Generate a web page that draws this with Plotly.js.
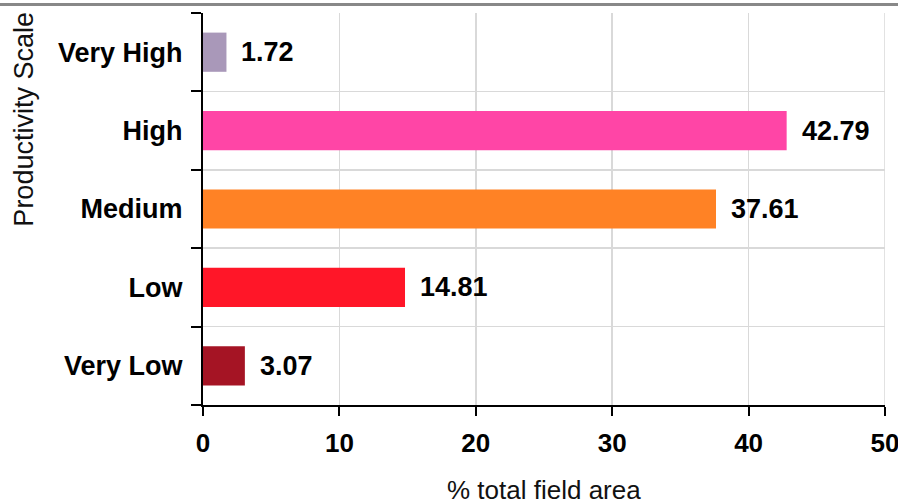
<!DOCTYPE html>
<html>
<head>
<meta charset="utf-8">
<script src="https://cdn.plot.ly/plotly-3.0.1.min.js"></script>
<style>html,body{margin:0;padding:0;background:#fff;}#chart{width:898px;height:501px;}</style>
</head>
<body>
<div id="chart"></div>
<script>
var categories = ["Very Low", "Low", "Medium", "High", "Very High"];
var values = [3.07, 14.81, 37.61, 42.79, 1.72];
var barColors = ["#A51424", "#FF1628", "#FF8225", "#FF45A6", "#A998B9"];
var xTickVals = [0, 10, 20, 30, 40, 50];
var xTitle = "% total field area";
var yTitle = "Productivity Scale";

var FONT = "Liberation Sans, Arial, sans-serif";

var trace = {
  type: "bar",
  orientation: "h",
  x: values,
  y: categories,
  width: 0.5,
  marker: {color: barColors, line: {width: 0}},
  hoverinfo: "none"
};

var annotations = values.map(function (v, i) {
  return {
    x: v, y: categories[i], xref: "x", yref: "y",
    text: v.toFixed(2), showarrow: false,
    xanchor: "left", yanchor: "middle", xshift: 13,
    font: {family: FONT, size: 27, color: "#000", weight: "bold"}
  };
});
annotations.push({
  x: 0.5, y: -0.2168, xref: "paper", yref: "paper",
  text: xTitle, showarrow: false, xanchor: "center", yanchor: "middle",
  font: {family: FONT, size: 26, color: "#111"}
});
annotations.push({
  x: -0.263, y: 0.7296, xref: "paper", yref: "paper",
  text: yTitle, showarrow: false, textangle: -90, xanchor: "center", yanchor: "middle",
  font: {family: FONT, size: 27, color: "#111"}
});

var layout = {
  width: 898, height: 501,
  margin: {l: 203, r: 13, t: 13, b: 96, pad: 0},
  paper_bgcolor: "#fff", plot_bgcolor: "#fff",
  showlegend: false,
  font: {family: FONT, color: "#000"},
  xaxis: {
    range: [0, 50], tickvals: xTickVals, ticktext: xTickVals.map(String),
    showgrid: true, gridcolor: "#d9d9d9", gridwidth: 1.5,
    zeroline: false, showline: true, linecolor: "#000", linewidth: 2,
    ticks: "outside", ticklen: 9, tickwidth: 2, tickcolor: "#000",
    ticklabelstandoff: 5, ticklabeloverflow: "allow",
    tickfont: {family: FONT, size: 26, color: "#000", weight: "bold"},
    fixedrange: true
  },
  yaxis: {
    type: "category", categoryorder: "array", categoryarray: categories,
    range: [-0.5, 4.5], tickson: "boundaries",
    showgrid: true, gridcolor: "#d9d9d9", gridwidth: 1.5,
    zeroline: false, showline: true, linecolor: "#000", linewidth: 2,
    ticks: "outside", ticklen: 10, tickwidth: 2, tickcolor: "#000",
    ticklabelstandoff: 13,
    tickfont: {family: FONT, size: 27, color: "#000", weight: "bold"},
    fixedrange: true
  },
  annotations: annotations,
  shapes: [{
    type: "line", xref: "paper", yref: "paper",
    x0: -0.3, x1: 1.02, y0: 1.0217, y1: 1.0217,
    line: {color: "#888", width: 3}
  }, {
    type: "line", xref: "x", yref: "paper", layer: "below",
    x0: xTickVals[xTickVals.length - 1], x1: xTickVals[xTickVals.length - 1], y0: 0, y1: 1,
    line: {color: "#d9d9d9", width: 1.5}
  }]
};

Plotly.newPlot("chart", [trace], layout, {displayModeBar: false, staticPlot: true});
</script>
</body>
</html>
